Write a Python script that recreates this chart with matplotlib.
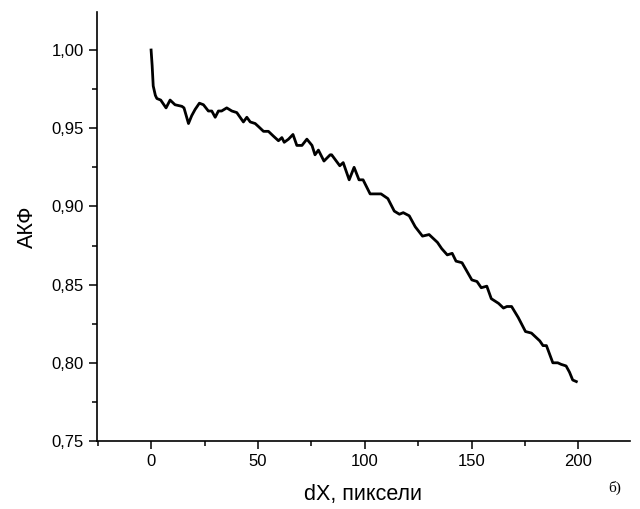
import matplotlib
matplotlib.use('Agg')
import matplotlib.pyplot as plt
from matplotlib.ticker import MultipleLocator, FuncFormatter

dx = [0, 0.5, 1, 2, 2.7, 4.5, 6, 7, 8.9, 11.2, 14.4, 15.4, 17.5, 19, 20.6, 22.6,
      24.5, 26.8, 28.4, 30, 31.5, 33, 35.4, 37.8, 40.1, 43.2, 44.8, 46.4, 48.7,
      50.3, 52.6, 54.9, 57.2, 59.6, 61.2, 62.3, 64.3, 66.4, 68.2, 70.6, 72.9,
      75.3, 76.7, 78.3, 80.9, 83.8, 84.5, 88.3, 89.9, 92.7, 95, 97.3, 99.2,
      102.5, 107.6, 110.8, 113.8, 116.2, 118, 120.8, 123.6, 127, 130.1, 134,
      136, 138.6, 140.9, 142.7, 145.5, 150.1, 152.5, 154.5, 157.1, 159.2, 162.6,
      164.9, 166.5, 168.7, 171.8, 175.2, 178, 181.9, 183.4, 185, 188, 190.3,
      191.9, 194.2, 195.8, 197.3, 199]
acf = [1.000, 0.990, 0.977, 0.971, 0.969, 0.968, 0.965, 0.963, 0.968, 0.965, 0.964,
       0.963, 0.953, 0.958, 0.962, 0.966, 0.965, 0.961, 0.961, 0.957, 0.961, 0.961,
       0.963, 0.961, 0.960, 0.954, 0.957, 0.954, 0.953, 0.951, 0.948, 0.948, 0.945,
       0.942, 0.944, 0.941, 0.943, 0.946, 0.939, 0.939, 0.943, 0.939, 0.933, 0.936,
       0.929, 0.933, 0.933, 0.926, 0.928, 0.917, 0.925, 0.917, 0.917, 0.908, 0.908,
       0.905, 0.897, 0.895, 0.896, 0.894, 0.887, 0.881, 0.882, 0.877, 0.873, 0.869,
       0.870, 0.865, 0.864, 0.853, 0.852, 0.848, 0.849, 0.841, 0.838, 0.835, 0.836,
       0.836, 0.829, 0.820, 0.819, 0.814, 0.811, 0.811, 0.800, 0.800, 0.799, 0.798,
       0.794, 0.789, 0.788]

plt.rcParams['font.family'] = ['Liberation Sans', 'DejaVu Sans']

fig = plt.figure(figsize=(6.4, 5.09), dpi=100)
ax = fig.add_axes([0.1516, 0.1336, 0.8324, 0.8428])
ax.plot(dx, acf, color='black', linewidth=2.0)

ax.set_xlim(-25.3, 224)
ax.set_ylim(0.75, 1.0243)
ax.xaxis.set_major_locator(MultipleLocator(50))
ax.xaxis.set_minor_locator(MultipleLocator(25))
ax.yaxis.set_major_locator(MultipleLocator(0.05))
ax.yaxis.set_minor_locator(MultipleLocator(0.025))
ax.yaxis.set_major_formatter(FuncFormatter(lambda v, p: f'{v:.2f}'.replace('.', ',')))

for side in ['top', 'right']:
    ax.spines[side].set_visible(False)
for side in ['left', 'bottom']:
    ax.spines[side].set_linewidth(1.2)
ax.tick_params(which='major', direction='out', length=6, width=1.1, labelsize=12)
ax.tick_params(which='minor', direction='out', length=3.5, width=1.1)

ax.set_xlabel('dX, пиксели', fontsize=15.5, labelpad=11)
ax.set_ylabel('АКФ', fontsize=15.5, labelpad=10)
fig.text(0.95, 0.033, 'б)', fontsize=11, family='Liberation Serif')

fig.savefig('out.png', dpi=100)
